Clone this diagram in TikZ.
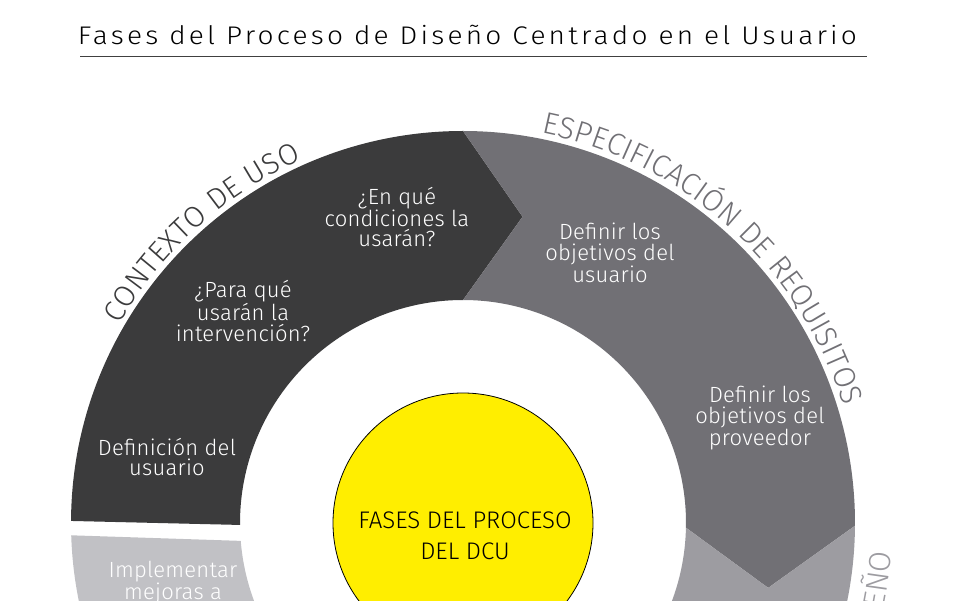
\documentclass[tikz,border=0pt]{standalone}
\usepackage{fontspec}
\setmainfont{Fira Sans Light}
\newfontfamily\titlefont{Fira Sans Light}[LetterSpace=12.5,FakeStretch=1.1]
\newfontfamily\stepfont{Fira Sans Light}[LetterSpace=1]
\newfontfamily\capfont{Fira Sans Light}
\usetikzlibrary{decorations.text}
\definecolor{CtxGray}{RGB}{59,59,60}
\definecolor{ReqGray}{RGB}{113,112,117}
\definecolor{DsnGray}{RGB}{157,156,161}
\definecolor{ImpGray}{RGB}{193,193,197}
\definecolor{DcuYellow}{RGB}{255,238,0}

\begin{document}
\begin{tikzpicture}[x=1pt,y=1pt,
phase/.style={text=white,align=center,font=\stepfont\fontsize{22}{20.5}\selectfont},
hub/.style={circle,fill=DcuYellow,draw=black,line width=0.8pt,minimum size=260pt,inner sep=0pt},
arclabel/.style={decorate,decoration={text along path,text align=fit to path,text={#1}}}
]
\useasboundingbox (0,0) rectangle (960,600);
\clip (0,0) rectangle (960,600);
% title
\node[anchor=base,font=\titlefont\fontsize{25.5}{30}\selectfont] (title) at (467.5,555.7) {Fases del Proceso de Diseño Centrado en el Usuario};
\coordinate (rulel) at (80,543.3);
\coordinate (ruler) at (867,543.3);
\draw[black!75,line width=0.9pt] (rulel) -- (ruler);
% ring segments
\begin{scope}[shift={(463,77)}]
\fill[CtxGray] (179.7:392) arc[start angle=179.7,end angle=90,radius=392pt] -- (79:312) -- (90:223) arc[start angle=90,end angle=180.5,radius=223pt] -- cycle;
\fill[ReqGray] (90:392) arc[start angle=90,end angle=-0.4,radius=392pt] -- (-12:312) -- (-1.2:223) arc[start angle=-1.2,end angle=90,radius=223pt] -- (79:312) -- cycle;
\fill[DsnGray] (-0.4:392) arc[start angle=-0.4,end angle=-80,radius=392pt] -- (-80:223) arc[start angle=-80,end angle=-1.2,radius=223pt] -- (-12:312) -- cycle;
\fill[ImpGray] (181.8:392) -- (184.6:223) arc[start angle=184.6,end angle=260,radius=223pt] -- (260:392) arc[start angle=260,end angle=181.8,radius=392pt] -- cycle;
% curved phase names
\path[arclabel={|\capfont\fontsize{29.5}{31}\selectfont\color{CtxGray}|CONTEXTO DE USO}] (150:397) arc[start angle=150,end angle=114,radius=397pt];
\path[arclabel={|\capfont\fontsize{30.5}{31}\selectfont\color{ReqGray}|ESPECIFICACIÓN DE REQUISITOS}] (78.6:398) arc[start angle=78.6,end angle=18,radius=398pt];
\path[arclabel={|\capfont\fontsize{30.5}{31}\selectfont\color{DsnGray}|DISEÑO}] (-17.5:429) arc[start angle=-17.5,end angle=-4.5,radius=429pt];
\end{scope}
% centre
\node[hub] (dcu) at (463,77) {};
\node[align=center,font=\capfont\fontsize{24}{31}\selectfont] (dcutext) at (465,64.5) {FASES DEL PROCESO\\DEL DCU};
% steps
\node[phase] (usr) at (167,143) {Definición del\\usuario};
\node[phase] (para) at (243,289) {¿Para qué\\usarán la\\intervención?};
\node[phase] (cond) at (397,383) {¿En qué\\condiciones la\\usarán?};
\node[phase] (obju) at (610,347) {Definir los\\objetivos del\\usuario};
\node[phase] (objp) at (760,182) {Definir los\\objetivos del\\proveedor};
\node[phase] (mejo) at (173,17) {Implementar\\mejoras a};
\end{tikzpicture}
\end{document}
